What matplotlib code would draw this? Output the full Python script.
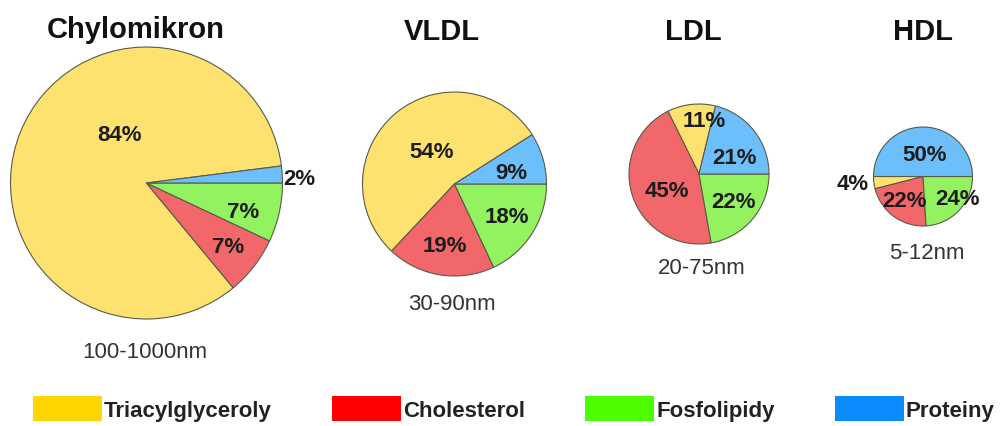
import matplotlib
matplotlib.use("Agg")
import matplotlib.pyplot as plt
from matplotlib.patches import Patch

# Composition of lipoprotein particles (% by mass)
categories = ["Triacylglyceroly", "Cholesterol", "Fosfolipidy", "Proteiny"]
particles = ["Chylomikron", "VLDL", "LDL", "HDL"]
sizes = ["100-1000nm", "30-90nm", "20-75nm", "5-12nm"]
chylomikron = [84, 7, 7, 2]
vldl = [54, 19, 18, 9]
ldl = [11, 45, 22, 21]
hdl = [4, 22, 24, 50]
values = [chylomikron, vldl, ldl, hdl]

# Styling
pie_colors = ["#FDE270", "#F2676A", "#92F260", "#6CBFFA"]
legend_colors = ["#FFD600", "#FF0000", "#4CFF00", "#0A8CFF"]
FONT = "Liberation Sans"
W, H = 1007, 427

# Layout in pixel units (origin top-left): pie centre x, centre y, radius
pie_layout = [(146.5, 184, 136), (454.5, 185, 92), (699, 175, 70), (923, 177.5, 49.5)]
title_baseline = [38, 39.5, 39.5, 39.5]
title_x = [136, 442, 693, 923]
size_baseline = [358, 310, 274, 259]
size_x = [145, 452, 702, 927]
# Percentage label offsets, in units of the pie radius (x right, y up)
label_offsets = [
    [(-0.20, 0.36), (0.60, -0.47), (0.71, -0.21), (1.12, 0.03)],
    [(-0.25, 0.35), (-0.10, -0.67), (0.57, -0.35), (0.62, 0.13)],
    [(0.07, 0.76), (-0.46, -0.24), (0.49, -0.40), (0.51, 0.24)],
    [(-1.43, -0.15), (-0.38, -0.49), (0.69, -0.45), (0.04, 0.45)],
]

fig = plt.figure(figsize=(W / 100, H / 100), dpi=100)
ax = fig.add_axes([0, 0, 1, 1])

for name, vals, size, (cx, cy, r), tb, tx, sb, sx, offs in zip(
        particles, values, sizes, pie_layout, title_baseline, title_x,
        size_baseline, size_x, label_offsets):
    cy_d = H - cy
    start = 360.0 * vals[-1] / sum(vals)
    ax.pie(vals, colors=pie_colors, startangle=start, counterclock=True,
           center=(cx, cy_d), radius=r, frame=True,
           wedgeprops=dict(edgecolor="#5a5a4a", linewidth=0.8))
    for v, (ox, oy) in zip(vals, offs):
        ax.text(cx + ox * r, cy_d + oy * r, f"{v}%", ha="center", va="center",
                fontsize=16, fontweight="bold", family=FONT, color="#1c1c1c")
    ax.text(tx, H - tb, name, ha="center", va="baseline", fontsize=21,
            fontweight="bold", family=FONT, color="#111111")
    ax.text(sx, H - sb, size, ha="center", va="baseline", fontsize=16,
            family=FONT, color="#333333")

ax.set_xlim(0, W)
ax.set_ylim(0, H)
ax.set_aspect("equal")
ax.axis("off")

handles = [Patch(facecolor=c, edgecolor="none") for c in legend_colors]
leg = fig.legend(handles, categories, loc="center left",
                 bbox_to_anchor=(33 / W, 1 - 409.5 / H), ncol=4, frameon=False,
                 prop=dict(family=FONT, weight="bold", size=16),
                 handlelength=3.1, handleheight=1.35, handletextpad=0.1,
                 columnspacing=2.7, borderpad=0, borderaxespad=0)
for t in leg.get_texts():
    t.set_color("#222222")

fig.savefig("out.png", dpi=100)
